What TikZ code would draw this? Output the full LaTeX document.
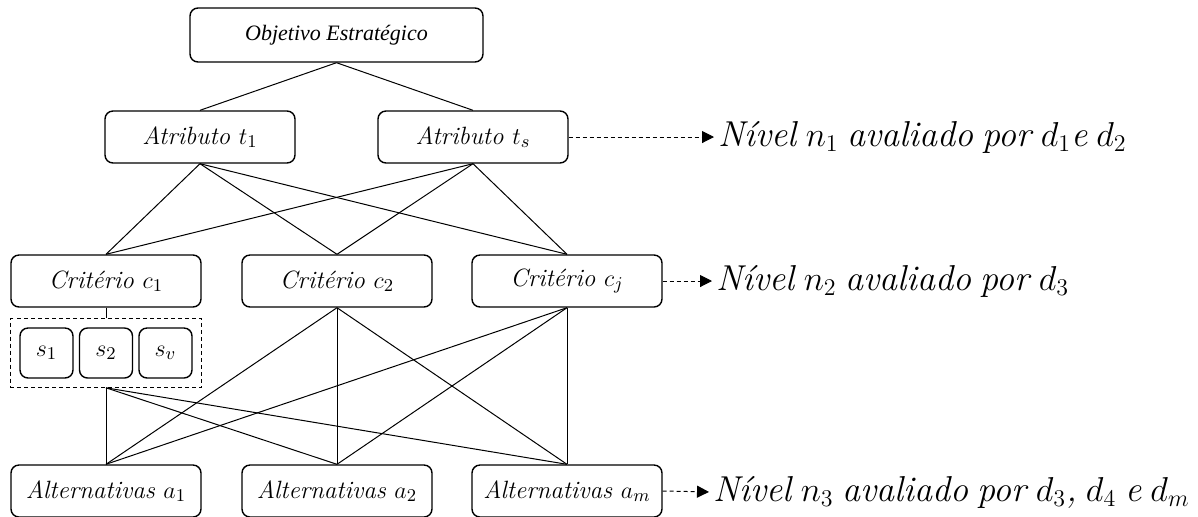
\documentclass[tikz,border=0pt]{standalone}
\usepackage{amsmath,amssymb}
\usepackage{fontspec}
\newfontfamily\timesfont{Liberation Serif}
\usetikzlibrary{arrows.meta,fit}
\newcommand\levelfont{\fontsize{18}{22}\selectfont\itshape\spaceskip 0.25em\relax}

\begin{document}
\begin{tikzpicture}[x=0.5pt, y=-0.5pt,
  box/.style={draw, line width=0.7pt, rounded corners=4pt, minimum width=95pt, minimum height=26pt, inner sep=0pt, font=\fontsize{12.5}{15}\selectfont\itshape},
  subbox/.style={draw, line width=0.7pt, rounded corners=4pt, minimum width=26.5pt, minimum height=25pt, inner sep=0pt, font=\fontsize{13}{15}\selectfont},
  level/.style={anchor=west, inner sep=0pt, font=\levelfont},
  link/.style={line width=0.5pt},
  pointer/.style={line width=0.5pt, dash pattern=on 2pt off 1.5pt, -{Triangle[length=6pt,width=6pt]}, shorten >=2pt}]
\useasboundingbox (0,0) rectangle (1198,516);

% Goal
\node[box, minimum width=146.5pt, minimum height=27pt, font=\timesfont\itshape\fontsize{11}{13}\selectfont] (obj) at (336.5,35) {Objetivo Estratégico};

% Attributes
\node[box] (t1) at (200,137) {Atributo $t_1$};
\node[box] (ts) at (473,137) {Atributo $t_s$};

% Criteria
\node[box] (c1) at (106,281) {Critério $c_1$};
\node[box] (c2) at (337,281) {Critério $c_2$};
\node[box] (cj) at (567,281) {Critério $c_j$};

% Sub-criteria of c1
\node[subbox] (s1) at (46.5,353) {$s_1$};
\node[subbox] (s2) at (106,353) {$s_2$};
\node[subbox] (sv) at (165.5,353) {$s_v$};
\node[draw, dash pattern=on 2pt off 1.5pt, line width=0.6pt, inner xsep=4.5pt, inner ysep=4.25pt, fit=(s1)(s2)(sv)] (grp) {};

% Alternatives
\node[box] (a1) at (106,491) {Alternativas $a_1$};
\node[box] (a2) at (337,491) {Alternativas $a_2$};
\node[box] (am) at (567,491) {Alternativas $a_m$};

% Links
\foreach \t in {t1,ts} \draw[link] (obj.south) -- (\t.north);
\foreach \t in {t1,ts} \foreach \c in {c1,c2,cj} \draw[link] (\t.south) -- (\c.north);
\draw[link] (c1.south) -- (grp.north);
\foreach \c in {grp,c2,cj} \foreach \a in {a1,a2,am} \draw[link] (\c.south) -- (\a.north);

% Levels
\node[level] (n1) at (718,137) {Nível $n_1$ avaliado por $d_1$e $d_2$};
\node[level] (n2) at (716,281) {Nível $n_2$ avaliado por $d_3$};
\node[level] (n3) at (713,492) {Nível $n_3$ avaliado por $d_3$, $d_4$ e $d_m$};
\draw[pointer] (ts.east) -- (n1.west);
\draw[pointer] (cj.east) -- (n2.west);
\draw[pointer] (am.east) -- (n3.west);

\end{tikzpicture}
\end{document}
